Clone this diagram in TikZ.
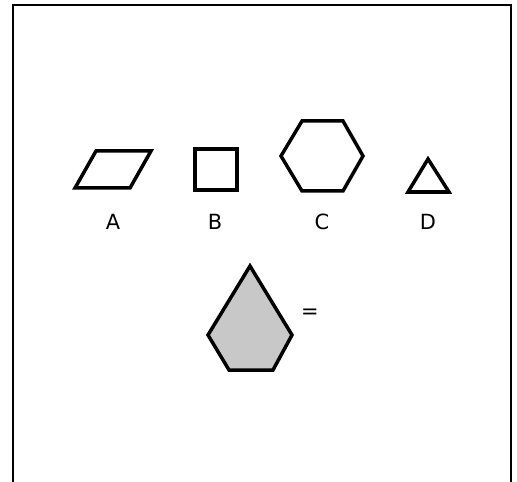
\documentclass[tikz,border=0pt]{standalone}
\usepackage{fontspec}
\setmainfont{DejaVu Sans}
\usepackage{xcolor}
\definecolor{ShapeGray}{HTML}{C8C8C8}
\usetikzlibrary{positioning}

\begin{document}
\begin{tikzpicture}[x=1bp, y=-1bp,
    shapeline/.style={draw=black, line width=3.5bp, line join=miter},
    letterlabel/.style={font=\fontsize{21}{21}\selectfont, inner sep=0pt}]
  \useasboundingbox (0,0) rectangle (517,482);

  % --- Cadre (ouvert en bas) ---
  \draw[line width=2.8bp] (13,482) -- (13,5) -- (511,5) -- (511,482);

  % --- Figure A : parallelogramme ---
  \draw[shapeline] (75,188) -- (130,188) -- (151,151) -- (96,151) -- cycle;
  \node[letterlabel] (labA) at (113,222) {A};

  % --- Figure B : carre ---
  \draw[shapeline] (195,149) rectangle (237,190);
  \node[letterlabel] (labB) at (215,222) {B};

  % --- Figure C : hexagone ---
  \draw[shapeline] (281,156) -- (302,121) -- (343,121) -- (363,156)
    -- (343,191) -- (302,191) -- cycle;
  \node[letterlabel] (labC) at (322,222) {C};

  % --- Figure D : triangle ---
  \draw[shapeline] (428,159) -- (449,192) -- (408,192) -- cycle;
  \node[letterlabel] (labD) at (428,222) {D};

  % --- Pentagone grise ---
  \filldraw[shapeline, fill=ShapeGray] (250,266) -- (292,335) -- (273,370)
    -- (229,370) -- (208,335) -- cycle;
  \node[letterlabel] (eq) at (310,314) {=};
\end{tikzpicture}
\end{document}
